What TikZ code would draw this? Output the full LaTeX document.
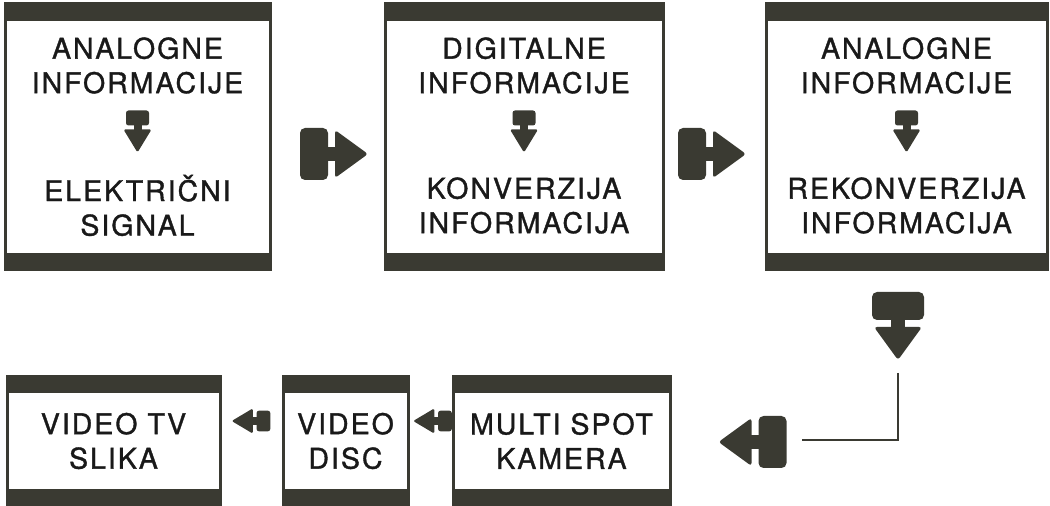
\documentclass[tikz,border=0pt]{standalone}
\usepackage{fontspec}
\setmainfont{TeX Gyre Heros}
\newfontfamily\labelfont[LetterSpace=7, FakeBold=1.2]{TeX Gyre Heros}

\definecolor{inkgrey}{RGB}{58,58,50}

\tikzset{
  panel/.style={draw=inkgrey, line width=3pt, inner sep=0pt,
    path picture={
      \fill[inkgrey] (path picture bounding box.north west) rectangle ([yshift=-#1]path picture bounding box.north east);
      \fill[inkgrey] (path picture bounding box.south west) rectangle ([yshift=#1]path picture bounding box.south east);
    }},
  panel/.default=17pt,
  caption/.style={font=\labelfont\fontsize{28.5}{34.5}\selectfont, align=center,
    text=black!90, inner sep=0pt},
  pics/blockarrow/.style={code={
    \fill[inkgrey, rounded corners=5pt] (-34,-26) rectangle (-6,26);
    \fill[inkgrey] (-8,-7) rectangle (3,7);
    \fill[inkgrey, rounded corners=3pt] (1,-24) -- (34,0) -- (1,24) -- cycle;
  }},
  pics/smallarrow/.style={code={
    \fill[inkgrey, rounded corners=2.5pt] (-21,-11.5) rectangle (-6,11.5);
    \fill[inkgrey] (-7,-4) rectangle (-1,4);
    \fill[inkgrey, rounded corners=1.5pt] (-2,-14) -- (21,0) -- (-2,14) -- cycle;
  }}
}

\begin{document}
\begin{tikzpicture}[x=1pt, y=1pt]

\useasboundingbox (0,0) rectangle (1050,506);

% upper row
\node[panel, minimum width=265pt, minimum height=266pt] (analog) at (137.5,369) {};
\node[panel, minimum width=278pt, minimum height=266pt] (digital) at (524,369) {};
\node[panel, minimum width=281pt, minimum height=266pt] (reanalog) at (906.5,369) {};

\node[caption] (analogtop) at ([yshift=-63pt]analog.north) {ANALOGNE\\INFORMACIJE};
\node[caption] (analogbot) at ([yshift=-203pt]analog.north) {ELEKTRIČNI\\SIGNAL};
\node[caption] (digitaltop) at ([yshift=-63pt]digital.north) {DIGITALNE\\INFORMACIJE};
\node[caption] (digitalbot) at ([yshift=-203pt]digital.north) {KONVERZIJA\\INFORMACIJA};
\node[caption] (reanalogtop) at ([yshift=-63pt]reanalog.north) {ANALOGNE\\INFORMACIJE};
\node[caption] (reanalogbot) at ([yshift=-203pt]reanalog.north) {REKONVERZIJA\\INFORMACIJA};

\foreach \panelname in {analog, digital, reanalog}
  \pic[rotate=-90] at ([yshift=-129pt]\panelname.north) {smallarrow};

% lower row
\node[panel=16pt, caption, minimum width=213pt, minimum height=128pt] (tvimage) at (113.5,65) {VIDEO TV\\SLIKA};
\node[panel=16pt, caption, minimum width=125pt, minimum height=128pt] (disc) at (345.5,65) {VIDEO\\DISC};
\node[panel=16pt, caption, minimum width=217pt, minimum height=128pt] (camera) at (561.5,65) {MULTI SPOT\\KAMERA};

% block arrows
\pic at (334,352) {blockarrow};
\pic at (712,352) {blockarrow};
\pic[rotate=-90] at (898,180) {blockarrow};
\pic[rotate=180] at (752.5,64) {blockarrow};
\pic[rotate=180, xscale=0.92, yscale=0.9] at (251,85) {smallarrow};
\pic[rotate=180, xscale=0.92, yscale=0.9] at (432.5,85) {smallarrow};

\coordinate (turntop) at (898,133);
\coordinate (turnend) at (802,66);
\draw[inkgrey, line width=1.5pt] (turntop) |- (turnend);

\end{tikzpicture}
\end{document}
